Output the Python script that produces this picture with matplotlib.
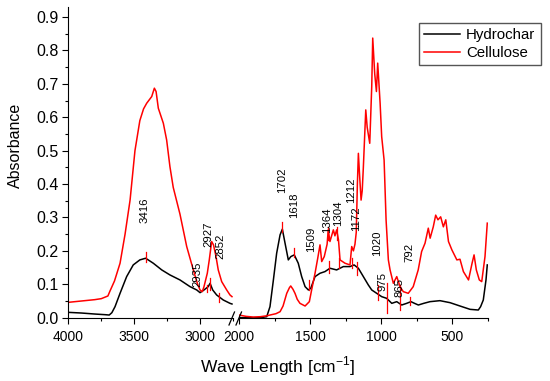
import matplotlib
matplotlib.use('Agg')
import matplotlib.pyplot as plt
from matplotlib.lines import Line2D
from matplotlib.ticker import MultipleLocator, FormatStrFormatter

plt.rcParams['font.family'] = ['Liberation Sans', 'DejaVu Sans']
plt.rcParams['mathtext.fontset'] = 'custom'
plt.rcParams['mathtext.rm'] = 'Liberation Sans'

# --- high wavenumber part (4000 - 2750) ---
hc_high_wn = [4000, 3900, 3800, 3720, 3690, 3670, 3646, 3608, 3558, 3508, 3458, 3414,
              3356, 3292, 3230, 3154, 3078, 3027, 3002, 2972, 2940, 2926, 2906, 2876,
              2826, 2775, 2760]
hc_high_abs = [0.016, 0.014, 0.011, 0.009, 0.008, 0.015, 0.033, 0.073, 0.123, 0.158, 0.173, 0.178,
               0.163, 0.143, 0.128, 0.113, 0.093, 0.083, 0.075, 0.083, 0.093, 0.103, 0.083, 0.068,
               0.053, 0.043, 0.041]

cel_high_wn = [4000, 3900, 3800, 3750, 3700, 3684, 3650, 3608, 3570, 3532, 3495, 3458, 3430,
               3406, 3368, 3348, 3335, 3318, 3280, 3255, 3230, 3205, 3154, 3103, 3053, 3020,
               3002, 2985, 2972, 2947, 2932, 2914, 2900, 2881, 2864, 2838, 2800, 2775, 2760]
cel_high_abs = [0.046, 0.050, 0.054, 0.057, 0.065, 0.080, 0.110, 0.163, 0.250, 0.352, 0.500, 0.590, 0.625,
                0.642, 0.662, 0.687, 0.677, 0.627, 0.582, 0.532, 0.452, 0.390, 0.310, 0.213, 0.143, 0.100,
                0.083, 0.078, 0.093, 0.133, 0.173, 0.228, 0.218, 0.183, 0.143, 0.108, 0.083, 0.068, 0.063]

# --- low wavenumber part (2000 - 250) ---
hc_low_wn = [2000, 1900, 1850, 1805, 1782, 1758, 1735, 1711, 1695, 1676, 1653, 1635, 1611,
             1583, 1559, 1535, 1512, 1495, 1465, 1430, 1395, 1360, 1313, 1266, 1219, 1190,
             1160, 1125, 1090, 1066, 1031, 996, 961, 925, 890, 855, 820, 790, 765, 738, 700,
             656, 586, 515, 445, 374, 316, 300, 281, 262, 253]
hc_low_abs = [0.0, 0.0, 0.0, 0.003, 0.033, 0.113, 0.193, 0.248, 0.265, 0.223, 0.173, 0.183, 0.188,
              0.163, 0.123, 0.093, 0.083, 0.088, 0.123, 0.133, 0.138, 0.148, 0.143, 0.153, 0.153, 0.158,
              0.148, 0.123, 0.098, 0.083, 0.073, 0.063, 0.058, 0.043, 0.048, 0.038, 0.043, 0.048, 0.043,
              0.038, 0.043, 0.048, 0.051, 0.045, 0.035, 0.025, 0.023, 0.033, 0.053, 0.113, 0.158]

cel_low_wn = [2000, 1950, 1900, 1850, 1800, 1782, 1740, 1711, 1690, 1664, 1645, 1636, 1620,
              1606, 1590, 1571, 1535, 1505, 1489, 1465, 1446, 1430, 1418, 1400, 1380, 1372,
              1360, 1336, 1325, 1313, 1300, 1289, 1254, 1219, 1207, 1195, 1184, 1175, 1167,
              1160, 1152, 1141, 1133, 1125, 1108, 1098, 1080, 1066, 1059, 1045, 1033, 1024,
              1007, 996, 979, 965, 949, 937, 914, 890, 867, 844, 809, 774, 739, 715, 691, 668,
              655, 633, 616, 600, 581, 562, 545, 526, 502, 467, 445, 421, 385, 360, 346, 330,
              309, 292, 269, 253]
cel_low_abs = [0.008, 0.004, 0.002, 0.003, 0.006, 0.008, 0.012, 0.018, 0.035, 0.073, 0.090, 0.095, 0.085,
               0.073, 0.055, 0.043, 0.035, 0.048, 0.083, 0.133, 0.178, 0.218, 0.168, 0.183, 0.220, 0.263,
               0.228, 0.263, 0.245, 0.263, 0.233, 0.173, 0.163, 0.158, 0.213, 0.200, 0.220, 0.255, 0.400,
               0.492, 0.430, 0.352, 0.380, 0.450, 0.622, 0.570, 0.522, 0.692, 0.837, 0.730, 0.677, 0.762,
               0.642, 0.542, 0.472, 0.292, 0.173, 0.143, 0.103, 0.123, 0.093, 0.078, 0.073, 0.093, 0.143,
               0.198, 0.223, 0.268, 0.238, 0.272, 0.307, 0.293, 0.302, 0.272, 0.293, 0.228, 0.203, 0.173,
               0.175, 0.138, 0.113, 0.163, 0.188, 0.143, 0.113, 0.108, 0.183, 0.283]

# peak labels: text, wavenumber, absorbance where the label sits
peak_labels = [('3416', 3419, 0.322), ('2935', 3019, 0.130), ('2927', 2940, 0.250),
               ('2852', 2850, 0.213), ('1702', 1700, 0.410), ('1618', 1612, 0.337),
               ('1509', 1495, 0.236), ('1364', 1381, 0.293), ('1304', 1300, 0.312),
               ('1212', 1213, 0.381), ('1172', 1178, 0.295), ('1020', 1031, 0.224),
               ('975', 990, 0.108), ('865', 873, 0.089), ('792', 802, 0.194)]

# red peak markers: wavenumber, low, high
peak_marks = [(3414, 0.168, 0.198), (2951, 0.078, 0.098), (2926, 0.083, 0.119),
              (2856, 0.048, 0.074), (1695, 0.257, 0.287), (1611, 0.183, 0.210),
              (1509, 0.083, 0.113), (1372, 0.233, 0.270), (1364, 0.135, 0.170),
              (1313, 0.233, 0.270), (1294, 0.148, 0.178), (1207, 0.150, 0.180),
              (1167, 0.128, 0.168), (1020, 0.053, 0.098), (961, 0.013, 0.103),
              (867, 0.023, 0.098), (796, 0.038, 0.063)]

W, H = 550, 381
fig = plt.figure(figsize=(W / 100, H / 100), dpi=100)
bottom = 1 - 317.7 / H
height = (317.7 - 7) / H
ax1 = fig.add_axes([68.3 / W, bottom, (233.3 - 68.3) / W, height])
ax2 = fig.add_axes([239 / W, bottom, (487.7 - 239) / W, height])

ax1.plot(hc_high_wn, hc_high_abs, color='black', lw=1.1, label='Hydrochar')
ax1.plot(cel_high_wn, cel_high_abs, color='red', lw=1.1, label='Cellulose')
ax2.plot(hc_low_wn, hc_low_abs, color='black', lw=1.1)
ax2.plot(cel_low_wn, cel_low_abs, color='red', lw=1.1)

ax1.set_xlim(4000, 2750)
ax2.set_xlim(2000, 250)
for ax in (ax1, ax2):
    ax.set_ylim(0, 0.93)
    ax.spines['top'].set_visible(False)
    ax.spines['right'].set_visible(False)
    ax.xaxis.set_major_locator(MultipleLocator(500))
    ax.xaxis.set_minor_locator(MultipleLocator(250))
    ax.tick_params(axis='x', which='major', direction='out', length=4, width=0.8, labelsize=10, pad=5)
    ax.tick_params(axis='x', which='minor', direction='out', length=2.5, width=0.8)
    for w, lo, hi in peak_marks:
        xl = ax.get_xlim()
        if min(xl) <= w <= max(xl):
            ax.plot([w, w], [lo, hi], color='red', lw=0.9)
    for txt, w, y in peak_labels:
        xl = ax.get_xlim()
        if min(xl) <= w <= max(xl):
            ax.text(w, y, txt, rotation=90, ha='center', va='center', fontsize=8.2)

ax1.yaxis.set_major_locator(MultipleLocator(0.1))
ax1.yaxis.set_minor_locator(MultipleLocator(0.05))
ax1.yaxis.set_major_formatter(FormatStrFormatter('%.1f'))
ax1.tick_params(axis='y', which='major', direction='out', length=4, width=0.8, labelsize=11.5, pad=3)
ax1.tick_params(axis='y', which='minor', direction='out', length=2.5, width=0.8)
ax2.spines['left'].set_visible(False)
ax2.tick_params(axis='y', which='both', left=False, labelleft=False)

# axis break marks
for x0 in (229, 236):
    fig.add_artist(Line2D([x0 / W, (x0 + 5.5) / W], [1 - 325 / H, 1 - 312 / H],
                          transform=fig.transFigure, color='black', lw=0.9))

fig.text(278 / W, 1 - 366 / H, 'Wave Length [cm$^{-1}$]', ha='center', va='center', fontsize=12.5)
fig.text(15 / W, 1 - 145 / H, 'Absorbance', rotation=90, ha='center', va='center', fontsize=11.5)

fig.legend(loc='upper right', bbox_to_anchor=(540.7 / W, 1 - 22.7 / H), fontsize=10.8,
           fancybox=False, edgecolor='#555555', framealpha=1, handlelength=2.4,
           handletextpad=0.4, borderpad=0.35, labelspacing=0.28, borderaxespad=0)

fig.savefig('out.png', dpi=100)
